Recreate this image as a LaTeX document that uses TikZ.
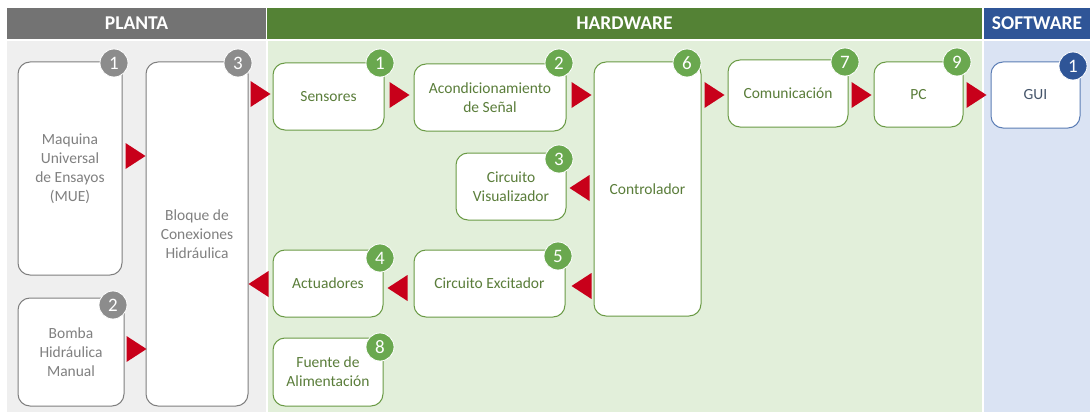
\documentclass[tikz,border=0pt]{standalone}
\usepackage{fontspec}
\setmainfont{Carlito}
\usetikzlibrary{calc}

\definecolor{hdrgray}{HTML}{737373}
\definecolor{hdrgreen}{HTML}{548235}
\definecolor{hdrblue}{HTML}{2F5597}
\definecolor{bodygray}{HTML}{EFEFEF}
\definecolor{bodygreen}{HTML}{E2EFDA}
\definecolor{bodyblue}{HTML}{DAE3F3}
\definecolor{plantline}{HTML}{7F7F7F}
\definecolor{planttext}{HTML}{808080}
\definecolor{hwline}{HTML}{6A9A45}
\definecolor{hwtext}{HTML}{5A7D3A}
\definecolor{swline}{HTML}{5B7DB5}
\definecolor{swtext}{HTML}{44546A}
\definecolor{badgegray}{HTML}{8C8C8C}
\definecolor{badgegreen}{HTML}{6AA84F}
\definecolor{badgeblue}{HTML}{2F5597}
\definecolor{tipred}{HTML}{C8001A}

% red triangular markers between blocks (argument: tip coordinate)
\newcommand\tipright[1]{\fill[redtri] #1 -- ++(-20,-13) -- ++(0,26) -- cycle;}
\newcommand\tipleft[1]{\fill[redtri] #1 -- ++(20,-13) -- ++(0,26) -- cycle;}

\begin{document}
\begin{tikzpicture}[x=1pt,y=-1pt,
  box/.style={draw, rounded corners=12pt, fill=white, line width=1pt,
    align=center, inner sep=2pt, font=\fontsize{15.5}{19}\selectfont},
  plantbox/.style={box, draw=plantline, text=planttext},
  hwbox/.style={box, draw=hwline, text=hwtext},
  swbox/.style={box, draw=swline, text=swtext},
  badge/.style={circle, draw=white, line width=0.8pt, minimum size=28pt,
    inner sep=0pt, text=white, font=\fontsize{19}{19}\selectfont},
  hdr/.style={text=white, font=\fontsize{19.5}{20}\selectfont\bfseries},
  redtri/.style={fill=tipred},
]
% canvas
\fill[white] (0,0) rectangle (1090,412);
\useasboundingbox (0,0) rectangle (1090,412);

% column backgrounds
\fill[bodygray]  (7,41)   rectangle (266,412);
\fill[bodygreen] (268,41) rectangle (982,412);
\fill[bodyblue]  (984,41) rectangle (1090,412);

% column headers
\fill[hdrgray]  (7,8)   rectangle (266,39);
\fill[hdrgreen] (267,8) rectangle (982,39);
\fill[hdrblue]  (984,8) rectangle (1090,39);
\node[hdr] (hplanta) at (136.5,23.5) {PLANTA};
\node[hdr] (hhw)     at (624.5,23.5) {HARDWARE};
\node[hdr] (hsw)     at (1037,23.5)  {SOFTWARE};

% plant blocks
\node[plantbox, minimum width=104pt, minimum height=213pt] (mue)    at (70,168.5) {Maquina\\Universal\\de Ensayos\\(MUE)};
\node[plantbox, minimum width=106pt, minimum height=108pt] (bomba)  at (71,352)   {Bomba\\Hidráulica\\Manual};
\node[plantbox, minimum width=102pt, minimum height=344pt] (bloque) at (197,234)   {Bloque de\\Conexiones\\Hidráulica};

% hardware blocks
\node[hwbox, minimum width=111pt, minimum height=67pt]  (sens)   at (328.5,96.5) {Sensores};
\node[hwbox, minimum width=152pt, minimum height=67pt]  (acond)  at (490,97.5)   {Acondicionamiento\\de Señal};
\node[hwbox, minimum width=107pt, minimum height=254pt] (ctrl)   at (647.5,189)  {Controlador};
\node[hwbox, minimum width=110pt, minimum height=67pt]  (visual) at (511,186.5)  {Circuito\\Visualizador};
\node[hwbox, minimum width=151pt, minimum height=67pt]  (excit)  at (489.5,283.5){Circuito Excitador};
\node[hwbox, minimum width=110pt, minimum height=67pt]  (actu)   at (328,283.5)  {Actuadores};
\node[hwbox, minimum width=110pt, minimum height=68pt]  (fuente) at (328,372)    {Fuente de\\Alimentación};
\node[hwbox, minimum width=120pt, minimum height=67pt]  (comm)   at (788,93.5)   {Comunicación};
\node[hwbox, minimum width=89pt,  minimum height=65pt]  (pc)     at (918.5,94.5) {PC};

% software block
\node[swbox, minimum width=89pt, minimum height=66pt] (gui) at (1035.5,95) {GUI};

% numbered badges
\node[badge, fill=badgegray]  (nmue)    at (114,63)  {1};
\node[badge, fill=badgegray]  (nbomba)  at (113,305) {2};
\node[badge, fill=badgegray]  (nbloque) at (238,63)  {3};
\node[badge, fill=badgegreen] (nsens)   at (380,63)  {1};
\node[badge, fill=badgegreen] (nacond)  at (559,63)  {2};
\node[badge, fill=badgegreen] (nvisual) at (559,159) {3};
\node[badge, fill=badgegreen] (nactu)   at (380,258) {4};
\node[badge, fill=badgegreen] (nexcit)  at (558,256) {5};
\node[badge, fill=badgegreen] (nctrl)   at (687,63)  {6};
\node[badge, fill=badgegreen] (ncomm)   at (845,62)  {7};
\node[badge, fill=badgegreen] (nfuente) at (380,347) {8};
\node[badge, fill=badgegreen] (npc)     at (957,62)  {9};
\node[badge, fill=badgeblue]  (ngui)    at (1073,66) {1};

% signal flow markers
\tipright{($(mue.east)+(23,-12.5)$)}
\tipright{($(bomba.east)+(22,-3)$)}
\tipright{($(sens.west)+(-2,-2.5)$)}
\tipright{($(acond.west)+(-4,-2.5)$)}
\tipright{($(ctrl.west |- acond.east)+(-2,-2.5)$)}
\tipright{($(comm.west)+(-3,1.5)$)}
\tipright{($(pc.west)+(-2,0.5)$)}
\tipright{($(gui.west)+(-4,0)$)}
\tipleft{($(visual.east)+(3,1.5)$)}
\tipleft{($(excit.east)+(6,2.5)$)}
\tipleft{($(actu.east)+(4,4.5)$)}
\tipleft{($(bloque.east |- actu.east)+(0,0.5)$)}
\end{tikzpicture}
\end{document}
